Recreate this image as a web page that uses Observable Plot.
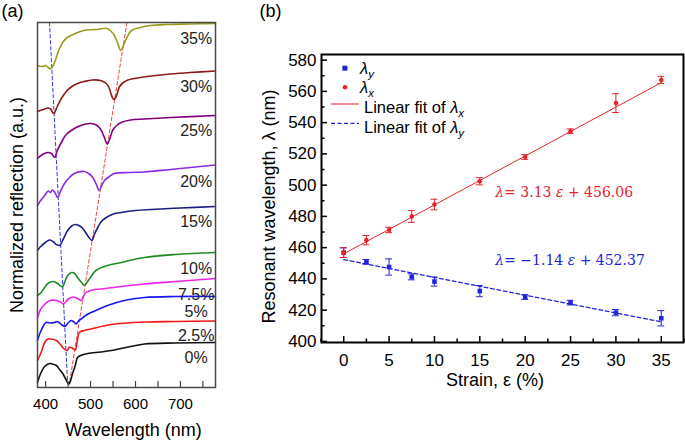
<!DOCTYPE html>
<html><head><meta charset="utf-8">
<script src="https://cdn.jsdelivr.net/npm/d3@7"></script>
<script src="https://cdn.jsdelivr.net/npm/@observablehq/plot@0.6"></script>
<style>
body{margin:0;background:#fff;}
#wrap{position:relative;width:685px;height:443px;overflow:hidden;font-family:"Liberation Sans",Arial,sans-serif;}
.panel{position:absolute;top:0;}
</style></head><body><div id="wrap"></div>
<script>
// ---------- Panel (a) data: spectra [wavelength nm, reflection a.u. (offset)] ----------
const strainLabels = ["0%","2.5%","5%","7.5%","10%","15%","20%","25%","30%","35%"];
const spectrum0 = [[382,5],[390,15],[398,21],[409,24],[415,23.5],[424,22],[431,18],[438,14],[444,9],[449,5],[452,3.5],[455,6],[460,14],[466,22],[471,30],[478,32],[494,34],[522,35.5],[546,37],[589,41],[620,43.5],[689,44.5],[778,45]];
const spectrum2_5 = [[382,27],[390,35],[398,45],[405,48.5],[413,48.5],[424,47],[433,43],[440,39],[448,37],[452,40],[457,40],[462,38.5],[466,37.5],[470,45],[475,55],[486,57],[501,58.5],[546,63],[620,65.5],[689,66],[778,66.5]];
const spectrum5 = [[382,47],[390,57],[401,65],[411,64.5],[420,65],[426,66],[435,63],[443,61],[450,64.5],[457,67],[463,65.5],[468,63.5],[473,66.5],[479,68.5],[489,72],[501,75],[522,79],[538,82],[575,87],[620,90],[689,91],[778,91]];
const spectrum7_5 = [[382,70],[390,79],[400,84],[409,87],[424,87],[433,85.5],[440,83.5],[449,88],[457,90],[466,90],[473,88.5],[479,87],[484,91],[490,95],[504,97.5],[523,98.5],[568,101],[620,103.5],[689,106],[778,109]];
const spectrum10 = [[382,92],[390,95],[398,100],[405,104],[416,106],[427,104],[433,101.5],[438,101],[443,106],[449,112],[458,115],[465,114],[471,110],[480,105],[486,102],[492,105],[498,109],[512,117],[538,122],[568,125],[620,130],[689,133],[778,135]];
const spectrum15 = [[382,137],[389,141],[398,144.5],[409,147.5],[418,145.5],[424,143],[431,142],[440,149],[449,157],[458,161.5],[466,163],[478,161],[486,157],[495,151],[503,147],[509,153.5],[516,160],[524,166],[535,170],[551,173.5],[568,175],[600,177],[635,178],[700,179.5],[778,181]];
const spectrum20 = [[382,182],[389,187],[398,192],[406,196.5],[411,195],[415,197.5],[420,195.5],[427,190],[433,196],[442,204],[453,210],[464,214],[486,216],[496,214],[505,210],[513,203],[519,197],[525,202],[531,207],[542,211],[553,214],[589,215],[620,215.5],[678,218],[778,222.5]];
const spectrum25 = [[382,229],[393,233],[405,235],[413,234],[420,230],[426,237],[435,245],[444,252],[457,257],[478,262],[501,264],[513,262.5],[522,258.5],[530,251],[537,243.5],[543,249],[549,257],[558,262],[568,265],[589,267.5],[620,268.5],[678,270],[778,272]];
const spectrum30 = [[382,276],[395,278],[405,279.5],[411,278.5],[418,274],[426,281],[435,289],[448,297],[457,300.5],[471,304],[486,306],[504,307.5],[522,307],[535,304],[542,299],[546,293],[552,288],[558,292],[564,300.5],[573,305],[583,307.5],[611,310],[635,311.5],[678,313.5],[722,315],[778,316.5]];
const spectrum35 = [[382,322],[393,321],[400,322],[406,320],[411,318.5],[420,325],[429,337],[438,345],[448,350],[466,354],[485,357],[511,358],[537,359],[546,356],[552,353],[560,345],[567,337],[573,342],[581,350],[591,357],[611,360],[633,362],[670,363],[722,363.5],[778,364]];
const guideLambdaY = [[408.7,365],[449,4]];
const guideLambdaX = [[581,365],[453,4]];
const wavelengthTicks = [400,500,600,700];

// ---------- Panel (b) data ----------
const strains = [0,2.5,5,7.5,10,15,20,25,30,35];
const lambdaX    = [456.8,464.8,471.3,480,487.6,502.5,518,534.5,552.5,567.3];
const lambdaXErr = [3.1,3,1.7,3.8,3.4,2.3,1.5,1.5,6,2.3];
const lambdaY    = [456.8,450.9,447.6,441.3,438.3,432.2,428.4,424.8,418.4,414.8];
const lambdaYErr = [3.1,1.5,5.2,1.9,2.9,3.6,1.5,1.5,2,4.9];
const fitXSlope = 3.13, fitXIntercept = 456.06;
const fitYSlope = -1.14, fitYIntercept = 452.37;
const strainTicks = [0,5,10,15,20,25,30,35];
const wavelengthTicksB = [400,420,440,460,480,500,520,540,560,580];

// ---------- styles ----------
const FONT = "Liberation Sans, Arial, sans-serif";
const RED = "#e8232a", BLUE = "#2323dc";
const specColors = ["#111111","#f01818","#1616ee","#ee22ee","#238b23","#1c1c86","#8a2be2","#800080","#8b1a1a","#9a9a20"];
const spectra = [spectrum0,spectrum2_5,spectrum5,spectrum7_5,spectrum10,spectrum15,spectrum20,spectrum25,spectrum30,spectrum35]
  .map((data,i)=>({data,label:strainLabels[i],color:specColors[i]}));

function valueAt(data,w){
  for(let i=1;i<data.length;i++){ if(data[i][0]>=w){const [x0,y0]=data[i-1],[x1,y1]=data[i];return y0+(y1-y0)*(w-x0)/(x1-x0);} }
  return data[data.length-1][1];
}

const wrap = document.getElementById("wrap");

// ---------- Panel (a) ----------
const hA = 443-22-56;
const panelA = Plot.plot({
  width:240, height:443, marginLeft:37, marginRight:25, marginTop:22, marginBottom:56,
  style:{fontFamily:FONT, fontSize:"15px", color:"#000", background:"transparent", overflow:"visible"},
  x:{domain:[382,778]},
  y:{domain:[0,365], axis:null},
  marks:[
    Plot.line(guideLambdaY,{x:d=>d[0],y:d=>d[1],stroke:"#3a3ae6",strokeWidth:1,strokeDasharray:"3.5,2.5",clip:true}),
    Plot.line(guideLambdaX,{x:d=>d[0],y:d=>d[1],stroke:"#f04545",strokeWidth:1,strokeDasharray:"3.5,2.5",clip:true}),
    ...spectra.map(s=>Plot.line(s.data,{x:d=>d[0],y:d=>d[1],stroke:s.color,strokeWidth:1.6,curve:"catmull-rom"})),
    Plot.text(spectra,{x:()=>735,y:s=>valueAt(s.data,735)-15,text:s=>s.label,fontSize:16,fill:"#222",textAnchor:"middle",lineAnchor:"middle"}),
    Plot.tickX(d3.range(400,751,50),{x:d=>d,insetTop:hA-6,stroke:"#444",strokeWidth:1.2}),
    Plot.axisX({ticks:wavelengthTicks,tickSize:0,tickPadding:11,fontSize:15,label:null,tickFormat:d=>d}),
    Plot.frame({stroke:"#4a4a4a",strokeWidth:1.5}),
    Plot.text(["Wavelength (nm)"],{text:d=>d,frameAnchor:"bottom",dx:7,dy:43,fontSize:18,textAnchor:"middle",lineAnchor:"middle"}),
    Plot.text(["Normalized reflection (a.u.)"],{text:d=>d,frameAnchor:"left",rotate:-90,dx:-20,fontSize:18,textAnchor:"middle",lineAnchor:"middle"}),
    Plot.text(["(a)"],{text:d=>d,frameAnchor:"top-left",dx:-25,dy:-11,fontSize:18,textAnchor:"middle",lineAnchor:"middle"})
  ]
});
panelA.classList.add("panel"); panelA.style.left="0px";
wrap.appendChild(panelA);

// ---------- Panel (b) ----------
const rowsX = strains.map((e,i)=>({e,v:lambdaX[i],err:lambdaXErr[i]}));
const rowsY = strains.map((e,i)=>({e,v:lambdaY[i],err:lambdaYErr[i]}));
const fitXPts = [0,35].map(e=>({e,v:fitXSlope*e+fitXIntercept}));
const fitYPts = [0,35].map(e=>({e,v:fitYSlope*e+fitYIntercept}));
const capW = 0.38;
function errMarks(rows,color){
  return [
    Plot.ruleX(rows,{x:"e",y1:d=>d.v-d.err,y2:d=>d.v+d.err,stroke:color,strokeWidth:1}),
    Plot.ruleY(rows,{y:d=>d.v-d.err,x1:d=>d.e-capW,x2:d=>d.e+capW,stroke:color,strokeWidth:1}),
    Plot.ruleY(rows,{y:d=>d.v+d.err,x1:d=>d.e-capW,x2:d=>d.e+capW,stroke:color,strokeWidth:1})
  ];
}
const hB = 443-54-101, wB = 445-81-2;
const eqX = "λ= 3.13 ε + 456.06";
const eqY = "λ= −1.14 ε + 452.37";
const panelB = Plot.plot({
  width:445, height:443, marginLeft:81, marginRight:2, marginTop:54, marginBottom:101,
  style:{fontFamily:FONT, fontSize:"17px", color:"#000", background:"transparent", overflow:"visible"},
  x:{domain:[-2.45,37.45]},
  y:{domain:[399.3,583.6]},
  marks:[
    Plot.line(fitYPts,{x:"e",y:"v",stroke:BLUE,strokeWidth:1.2,strokeDasharray:"4,2.5"}),
    ...errMarks(rowsY,BLUE),
    Plot.dot(rowsY,{x:"e",y:"v",symbol:"square",r:2.6,fill:BLUE,stroke:"none"}),
    Plot.line(fitXPts,{x:"e",y:"v",stroke:RED,strokeWidth:1}),
    ...errMarks(rowsX,RED),
    Plot.dot(rowsX,{x:"e",y:"v",r:2.3,fill:RED,stroke:"none"}),
    Plot.tickX(strainTicks,{x:d=>d,insetTop:hB-6,stroke:"#000",strokeWidth:1.5}),
    Plot.tickX(d3.range(-2.5,37.6,5),{x:d=>d,insetTop:hB-3.5,stroke:"#000",strokeWidth:1.5}),
    Plot.tickY(wavelengthTicksB,{y:d=>d,insetRight:wB-6,stroke:"#000",strokeWidth:1.5}),
    Plot.tickY(d3.range(410,581,20),{y:d=>d,insetRight:wB-3.5,stroke:"#000",strokeWidth:1.5}),
    Plot.axisX({ticks:strainTicks,tickSize:0,tickPadding:11,fontSize:17,label:null,tickFormat:d=>d}),
    Plot.axisY({ticks:wavelengthTicksB,tickSize:0,tickPadding:5,fontSize:17,label:null,tickFormat:d=>d}),
    Plot.frame({stroke:"#000",strokeWidth:2}),
    Plot.text([eqX],{text:d=>d,x:()=>16.7,y:()=>495.1,textAnchor:"start",lineAnchor:"middle",fill:RED,fontFamily:"DejaVu Serif",fontSize:14}),
    Plot.text([eqY],{text:d=>d,x:()=>16.7,y:()=>451.9,textAnchor:"start",lineAnchor:"middle",fill:BLUE,fontFamily:"DejaVu Serif",fontSize:14}),
    Plot.text(["Strain, ε (%)"],{text:d=>d,frameAnchor:"bottom",dx:-7.5,dy:38,fontSize:18,textAnchor:"middle",lineAnchor:"middle"}),
    Plot.text(["Resonant wavelength, λ (nm)"],{text:d=>d,frameAnchor:"left",rotate:-90,dx:-52,dy:8,fontSize:18,textAnchor:"middle",lineAnchor:"middle"}),
    Plot.text(["(b)"],{text:d=>d,frameAnchor:"top-left",dx:-51,dy:-43,fontSize:18,textAnchor:"middle",lineAnchor:"middle"})
  ]
});
panelB.classList.add("panel"); panelB.style.left="240px";
wrap.appendChild(panelB);

// italic Greek letters in equations
const NS = "http://www.w3.org/2000/svg";
function rich(svg,plain,parts){
  svg.querySelectorAll("text").forEach(t=>{
    if(t.textContent===plain && t.children.length===0){
      t.textContent="";
      parts.forEach(([s,it])=>{const ts=document.createElementNS(NS,"tspan");ts.textContent=s;if(it)ts.setAttribute("font-style","italic");t.appendChild(ts);});
    }
  });
}
rich(panelB,eqX,[["λ",1],["= 3.13 ",0],["ε",1],[" + 456.06",0]]);
rich(panelB,eqY,[["λ",1],["= −1.14 ",0],["ε",1],[" + 452.37",0]]);

// ---------- Legend (panel b) ----------
const leg = d3.select(wrap).append("svg").attr("width",685).attr("height",443)
  .style("position","absolute").style("left","0px").style("top","0px")
  .style("font-family",FONT).style("font-size","16.5px");
leg.append("rect").attr("x",342.4).attr("y",65.7).attr("width",5).attr("height",5).attr("fill",BLUE);
leg.append("circle").attr("cx",345).attr("cy",87.3).attr("r",2.3).attr("fill",RED);
leg.append("line").attr("x1",331).attr("x2",359).attr("y1",104).attr("y2",104).attr("stroke",RED).attr("stroke-width",1);
leg.append("line").attr("x1",331).attr("x2",359).attr("y1",123.3).attr("y2",123.3).attr("stroke",BLUE).attr("stroke-width",1.2).attr("stroke-dasharray","4,2.5");
function legText(x,y,pre,sub){
  const t = leg.append("text").attr("x",x).attr("y",y);
  if(pre) t.append("tspan").text(pre);
  t.append("tspan").attr("font-style","italic").text("λ");
  t.append("tspan").attr("font-style","italic").attr("font-size","11.5px").attr("dy",4).text(sub);
}
legText(360,74,"","y");
legText(360,93,"","x");
legText(364,113,"Linear fit of ","x");
legText(364,133,"Linear fit of ","y");
</script>
</body></html>
